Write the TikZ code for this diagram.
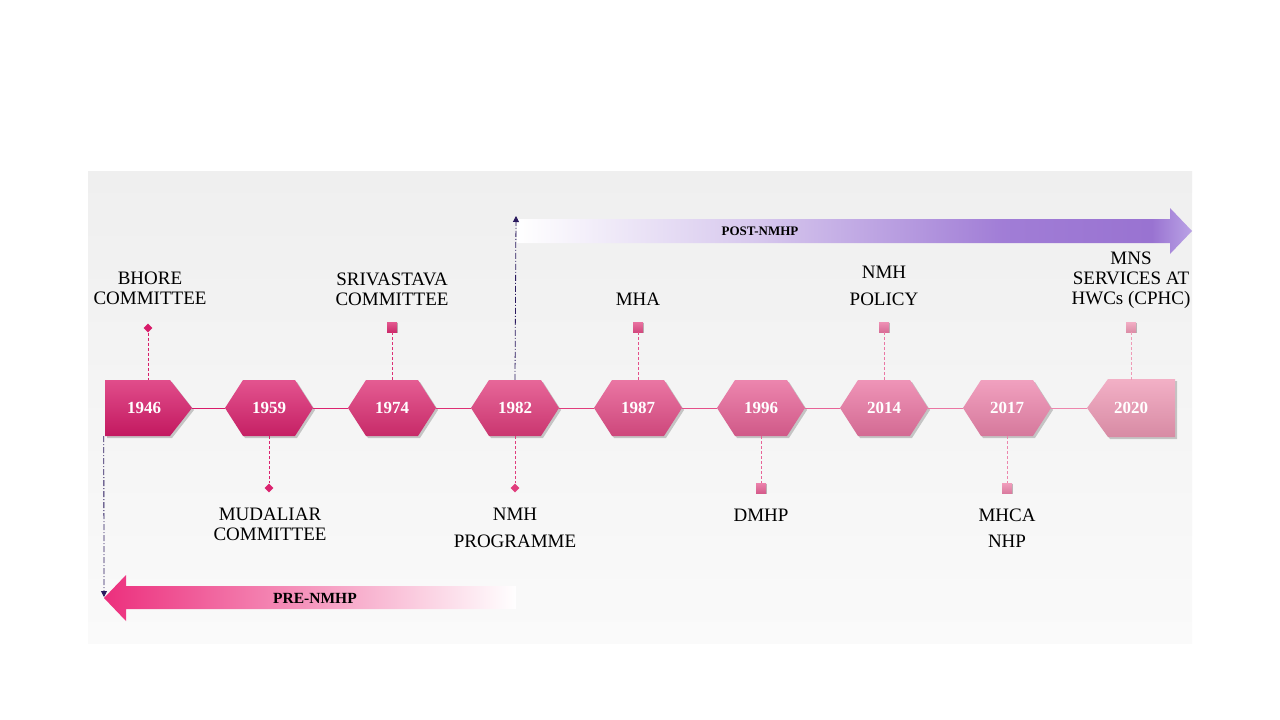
\documentclass[tikz,border=0pt]{standalone}
\usepackage{fontspec}
\setmainfont{Liberation Serif}
\usetikzlibrary{arrows.meta,shapes.geometric,shadows,calc}
\definecolor{c0}{HTML}{D81B6A}
\definecolor{c1}{HTML}{DB236F}
\definecolor{c2}{HTML}{DD2F74}
\definecolor{c3}{HTML}{E03C7C}
\definecolor{c4}{HTML}{E44F89}
\definecolor{c5}{HTML}{E76397}
\definecolor{c6}{HTML}{EA76A3}
\definecolor{c7}{HTML}{ED86AD}
\definecolor{c8}{HTML}{EF9AB6}
\definecolor{navy}{HTML}{2A1A5E}
\definecolor{prepink}{HTML}{EC2F7D}
\definecolor{panelTop}{HTML}{EFEFEF}
\definecolor{panelBot}{HTML}{FAFAFA}
\pgfdeclarehorizontalshading{postshade}{100bp}{rgb(0bp)=(1,1,1); rgb(25bp)=(1,1,1); rgb(43bp)=(0.84,0.78,0.93); rgb(61bp)=(0.63,0.49,0.84); rgb(72bp)=(0.60,0.45,0.82); rgb(75bp)=(0.73,0.64,0.90); rgb(100bp)=(0.73,0.64,0.90)}
\tikzset{
  hexfill/.style={top color=#1!78!white, bottom color=#1!90!black, draw=none,
    drop shadow={shadow xshift=2pt, shadow yshift=-2pt, opacity=0.2, fill=black}},
  yearnode/.style={rectangle, draw=none, minimum width=88pt, minimum height=56pt, inner sep=0pt,
    text=white, font=\fontsize{17}{17}\selectfont\bfseries},
  diam/.style={diamond, fill=#1, inner sep=0pt, minimum size=9pt, draw=none},
  sq/.style={rectangle, top color=#1!80!white, bottom color=#1!92!black, inner sep=0pt, minimum size=10pt, draw=none,
    drop shadow={shadow xshift=1pt, shadow yshift=-1pt, opacity=0.25, fill=black}},
  dashconn/.style={draw=#1, dashed, dash pattern=on 3pt off 2pt, line width=0.8pt},
  tline/.style={draw=#1, line width=1pt},
  lbl/.style={align=center, text=black, font=\fontsize{19}{20}\selectfont, inner sep=0pt},
  lblwide/.style={align=center, text=black, font=\fontsize{19}{26.5}\selectfont, inner sep=0pt},
  navyline/.style={draw=navy, line width=0.8pt, dash pattern=on 6pt off 2pt on 1pt off 2pt,
    -{Triangle[width=6pt,length=6pt]}},
  arrowtext/.style={text=black, inner sep=0pt, font=\bfseries}
}
\begin{document}
\begin{tikzpicture}[x=1pt,y=-1pt]
\useasboundingbox (0,0) rectangle (1280,720);
\fill[white] (0,0) rectangle (1280,720);
\shade[top color=panelTop, bottom color=panelBot] (88,171) rectangle (1192,643);

% arrows (shapes)
\shade[shading=postshade] (517,219) -- (1170,219) -- (1170,208) -- (1192,231) -- (1170,254) -- (1170,243) -- (517,243) -- cycle;
\shade[left color=prepink, right color=white] (516,586) -- (126,586) -- (126,575) -- (104,598) -- (126,621) -- (126,609) -- (516,609) -- cycle;
\node[arrowtext, font=\fontsize{13}{13}\selectfont\bfseries] (post) at (760,231) {POST-NMHP};
\node[arrowtext, font=\fontsize{15.5}{15.5}\selectfont\bfseries] (pre) at (315,598) {PRE-NMHP};

% hexagon shapes
\shade[hexfill=c0] (105,380) -- (170,380) -- (192,408) -- (170,436) -- (105,436) -- cycle;
\foreach \i/\x in {1/269, 2/392, 3/515, 4/638, 5/761, 6/884, 7/1007} {
  \shade[hexfill=c\i] (\x-44,408) -- (\x-26,380) -- (\x+26,380) -- (\x+44,408) -- (\x+26,436) -- (\x-26,436) -- cycle;
}
\shade[hexfill=c8] (1087,408) -- (1108,379) -- (1175,379) -- (1175,437) -- (1108,437) -- cycle;

% year nodes
\node[yearnode] (y1946) at (148,408) {\hspace*{-8pt}1946};
\node[yearnode] (y1959) at (269,408) {1959};
\node[yearnode] (y1974) at (392,408) {1974};
\node[yearnode] (y1982) at (515,408) {1982};
\node[yearnode] (y1987) at (638,408) {1987};
\node[yearnode] (y1996) at (761,408) {1996};
\node[yearnode] (y2014) at (884,408) {2014};
\node[yearnode] (y2017) at (1007,408) {2017};
\node[yearnode] (y2020) at (1131,408) {2020};

% timeline connectors
\draw[tline=c0] (y1946.east) -- (y1959.west);
\draw[tline=c1] (y1959.east) -- (y1974.west);
\draw[tline=c2] (y1974.east) -- (y1982.west);
\draw[tline=c3] (y1982.east) -- (y1987.west);
\draw[tline=c4] (y1987.east) -- (y1996.west);
\draw[tline=c5] (y1996.east) -- (y2014.west);
\draw[tline=c6] (y2014.east) -- (y2017.west);
\draw[tline=c7] (y2017.east) -- (y2020.west);

% markers
\node[diam=c0] (m1946) at (148,328) {};
\node[sq=c2] (m1974) at (392,327) {};
\node[sq=c4] (m1987) at (638,327) {};
\node[sq=c6] (m2014) at (884,327) {};
\node[sq=c8] (m2020) at (1131,327) {};
\node[diam=c1] (m1959) at (269,488) {};
\node[diam=c3] (m1982) at (515,488) {};
\node[sq=c5] (m1996) at (761,488) {};
\node[sq=c7] (m2017) at (1007,488) {};

\draw[dashconn=c0] (m1946.south) -- (y1946.north);
\draw[dashconn=c2] (m1974.south) -- (y1974.north);
\draw[dashconn=c4] (m1987.south) -- (y1987.north);
\draw[dashconn=c6] (m2014.south) -- (y2014.north);
\draw[dashconn=c8] (m2020.south) -- (y2020.north);
\draw[dashconn=c1] (y1959.south) -- (m1959.north);
\draw[dashconn=c3] (y1982.south) -- (m1982.north);
\draw[dashconn=c5] (y1996.south) -- (m1996.north);
\draw[dashconn=c7] (y2017.south) -- (m2017.north);

% labels
\node[lbl] (l1946) at (150,288) {BHORE\\COMMITTEE};
\node[lbl] (l1974) at (392,289) {SRIVASTAVA\\COMMITTEE};
\node[lbl] (l1987) at (638,299) {MHA};
\node[lblwide] (l2014) at (884,286) {NMH\\POLICY};
\node[lbl] (l2020) at (1131,280) {MNS\\SERVICES AT\\HWCs (CPHC)};
\node[lbl] (l1959) at (270,524) {MUDALIAR\\COMMITTEE};
\node[lblwide] (l1982) at (515,528) {NMH\\PROGRAMME};
\node[lbl] (l1996) at (761,515) {DMHP};
\node[lblwide] (l2017) at (1007,528) {MHCA\\NHP};

% dash-dot navy lines
\coordinate (postStart) at (516,216);
\coordinate (preTip) at (104,597);
\draw[navyline] (y1982.north) -- (postStart);
\draw[navyline] (y1946.south west) -- (preTip);
\end{tikzpicture}
\end{document}
